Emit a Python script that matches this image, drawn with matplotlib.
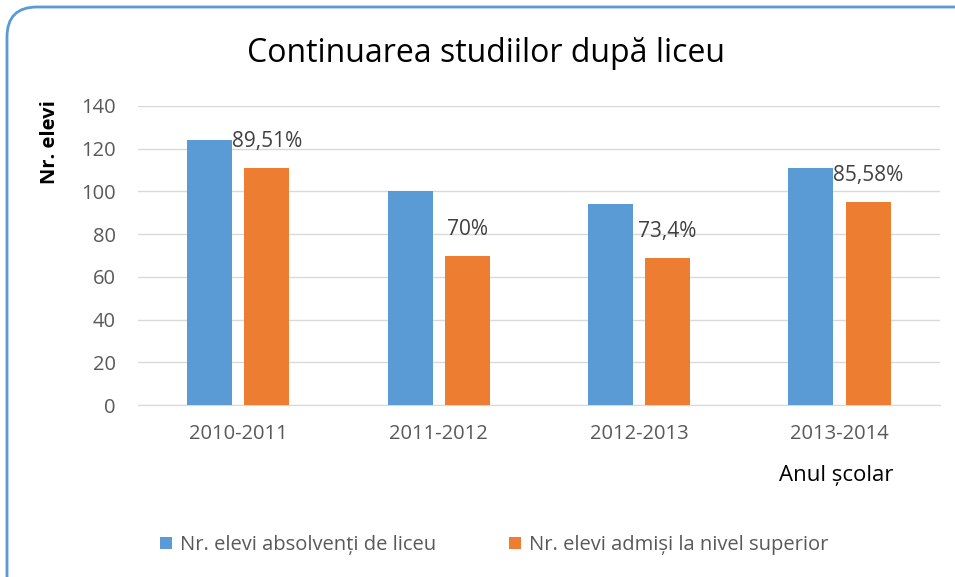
import numpy as np
import matplotlib.pyplot as plt
from matplotlib.patches import FancyBboxPatch

ani = ['2010-2011', '2011-2012', '2012-2013', '2013-2014']
absolventi = [124, 100, 94, 111]
admisi = [111, 70, 69, 95]
procente = ['89,51%', '70%', '73,4%', '85,58%']
yticks = [0, 20, 40, 60, 80, 100, 120, 140]

plt.rcParams['font.family'] = ['Open Sans', 'DejaVu Sans']

fig = plt.figure(figsize=(9.55, 5.77), dpi=100)
ax = fig.add_axes([0.1445, 0.298, 0.8395, 0.5183])

x = np.arange(len(ani))
w = 0.225
b1 = ax.bar(x - 0.1425, absolventi, w, color='#5B9BD5', label='Nr. elevi absolvenți de liceu', zorder=3)
b2 = ax.bar(x + 0.1425, admisi, w, color='#ED7D31', label='Nr. elevi admiși la nivel superior', zorder=3)

# procentul de admisi, deasupra barei portocalii
for xi, h, t in zip(x + 0.1425, admisi, procente):
    ax.annotate(t, (xi, h), xytext=(0, 19), textcoords='offset points',
                ha='center', va='center', fontsize=15, color='#404040', zorder=4)

ax.set_xlim(-0.5, 3.5)
ax.set_ylim(0, 140)
ax.set_yticks(yticks)
ax.set_xticks(x)
ax.set_xticklabels(ani)
ax.tick_params(axis='both', length=0, labelsize=14.5, labelcolor='#595959')
ax.tick_params(axis='x', pad=14)
ax.tick_params(axis='y', pad=16)
ax.grid(axis='y', color='#D9D9D9', linewidth=1, zorder=0)
for s in ['top', 'right', 'left']:
    ax.spines[s].set_visible(False)
ax.spines['bottom'].set_color('#D9D9D9')

fig.text(486 / 955, 1 - 54 / 577, 'Continuarea studiilor după liceu', ha='center', va='center',
         fontsize=23, color='#000000')
fig.text(50 / 955, 1 - 142 / 577, 'Nr. elevi', rotation=90, ha='center', va='center',
         fontsize=14.5, fontweight='bold', color='#000000')
fig.text(893 / 955, 1 - 475 / 577, 'Anul școlar', ha='right', va='center',
         fontsize=16, color='#000000')

leg = fig.legend(handles=[b1, b2], loc='center', bbox_to_anchor=(494 / 955, 1 - 545 / 577),
                 ncol=2, frameon=False, fontsize=14.5, handlelength=0.6, handleheight=0.6,
                 handletextpad=0.4, columnspacing=3.6)
for t in leg.get_texts():
    t.set_color('#595959')

frame = FancyBboxPatch((0.07, -0.3), 9.95, 6.0, boxstyle='round,pad=0,rounding_size=0.3',
                       transform=fig.dpi_scale_trans, facecolor='none', edgecolor='#5B9BD5',
                       linewidth=2)
fig.patches.append(frame)

fig.savefig('out.png', dpi=100)
